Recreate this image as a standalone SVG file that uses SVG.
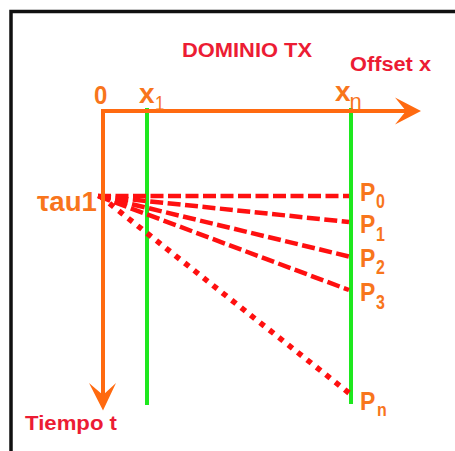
<svg xmlns="http://www.w3.org/2000/svg" width="455" height="451" viewBox="0 0 455 451">
<style>
.frame{stroke:#111;stroke-width:3.5;fill:none}
.axis{stroke:#ff6a10;stroke-width:4;fill:none}
.head{fill:#ff6a10}
.rec{stroke:#1ee81e;stroke-width:4;fill:none}
.ray{stroke:#ff1010;stroke-width:4.5;fill:none;stroke-dasharray:13 4.5}
.dot{stroke:#ff1010;stroke-width:5.5;fill:none;stroke-dasharray:5.5 6.5}
.red{font-family:"Liberation Sans",Arial,sans-serif;font-weight:bold;fill:#ec1c34}
.or{font-family:"Liberation Sans",Arial,sans-serif;font-weight:bold;fill:#f8751c}
.sub{font-family:"Liberation Sans",Arial,sans-serif;fill:#f8751c}
</style>
<rect width="455" height="451" fill="#fff"/>
<g id="frame">
<path class="frame" d="M11 451 V11.5 H455"/>
</g>
<g id="title"><text class="red" x="182" y="56.7" font-size="21" textLength="130" lengthAdjust="spacingAndGlyphs">DOMINIO TX</text></g>
<g id="offset-label"><text class="red" x="350" y="71" font-size="20" textLength="81" lengthAdjust="spacingAndGlyphs">Offset x</text></g>
<g id="time-label"><text class="red" x="25" y="430" font-size="20" textLength="92" lengthAdjust="spacingAndGlyphs">Tiempo t</text></g>
<g id="receivers">
<line class="rec" x1="147" y1="108" x2="147" y2="405"/>
<line class="rec" x1="351" y1="108" x2="351" y2="404"/>
</g>
<g id="connectors">
<line class="ray" x1="98" y1="196" x2="349" y2="196"/>
<line class="ray" x1="98" y1="196" x2="349" y2="222"/>
<line class="ray" x1="98" y1="196" x2="349" y2="256.5"/>
<line class="ray" x1="98" y1="196" x2="349" y2="290"/>
<line class="dot" x1="100" y1="196" x2="349" y2="393"/>
</g>
<g id="axes">
<path class="axis" d="M103 400 V111 H410"/>
<path class="head" d="M395 97.5 L421 111 L395 124.5 L406 111 Z"/>
<path class="head" d="M89 383 L103 410.5 L116 383 L103 395 Z"/>
</g>
<g id="axis-labels">
<text class="or" x="94" y="104.5" font-size="24" transform="matrix(1 0 0 1.08 0 -8.36)">0</text>
<text class="or" x="139" y="103" font-size="28">x</text>
<text class="sub" x="155" y="110" font-size="17" transform="matrix(1 0 0 1.15 0 -16.5)">1</text>
<text class="or" x="335" y="100.5" font-size="28">x</text>
<text class="sub" x="349.5" y="108.5" font-size="22">n</text>
</g>
<g id="tau-label"><text class="or" x="37" y="210.7" font-size="27" textLength="60" lengthAdjust="spacingAndGlyphs" transform="matrix(1 0 0 1.05 0 -10.5)">τau1</text></g>
<g id="P0"><text class="or" x="360" y="201" font-size="23" transform="matrix(1 0 0 1.1 0 -20.1)">P</text><text class="or" x="376" y="208" font-size="16" transform="matrix(1 0 0 1.3 0 -62.4)">0</text></g>
<g id="P1"><text class="or" x="360" y="233" font-size="23" transform="matrix(1 0 0 1.1 0 -23.3)">P</text><text class="or" x="376" y="241" font-size="16" transform="matrix(1 0 0 1.3 0 -72.3)">1</text></g>
<g id="P2"><text class="or" x="360" y="267" font-size="23" transform="matrix(1 0 0 1.1 0 -26.7)">P</text><text class="or" x="376" y="274" font-size="16" transform="matrix(1 0 0 1.3 0 -82.2)">2</text></g>
<g id="P3"><text class="or" x="360" y="301" font-size="23" transform="matrix(1 0 0 1.1 0 -30.1)">P</text><text class="or" x="376" y="309" font-size="16" transform="matrix(1 0 0 1.3 0 -92.7)">3</text></g>
<g id="Pn"><text class="or" x="360" y="410" font-size="23" transform="matrix(1 0 0 1.1 0 -41)">P</text><text class="or" x="377" y="416" font-size="16" transform="matrix(1 0 0 1.15 0 -62.4)">n</text></g>
</svg>
